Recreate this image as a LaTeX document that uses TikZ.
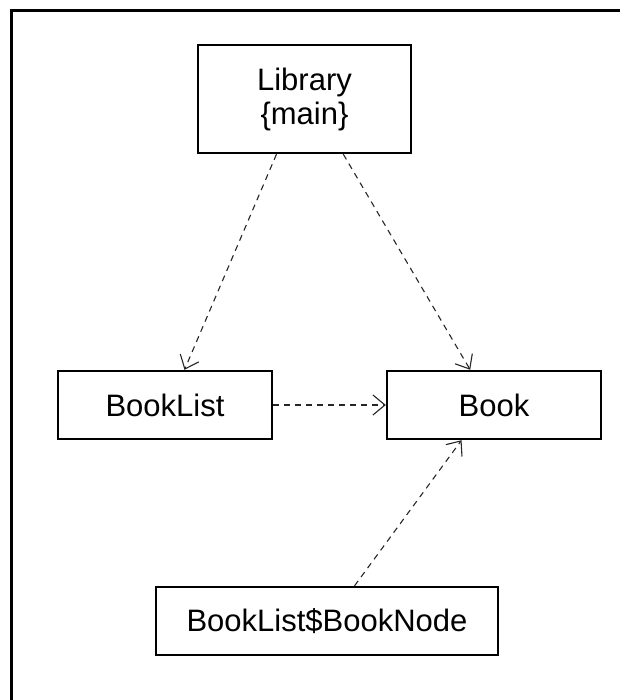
\documentclass[tikz,border=0pt]{standalone}
\usepackage{fontspec}
\setmainfont{Liberation Sans}
\usetikzlibrary{arrows.meta,calc}
\begin{document}
\begin{tikzpicture}[x=1pt,y=-1pt,
  classbox/.style={draw=black,line width=2.4pt,rectangle,inner sep=0pt,
    minimum height=68pt,align=center,font=\fontsize{31}{34}\selectfont},
  dep/.style={draw=black!85,line width=1.1pt,dash pattern=on 6pt off 5pt,
    -{Straight Barb[length=12pt,width=20pt,line width=1.1pt]}}]
  \useasboundingbox (0,0) rectangle (620,700);
  % diagram frame (top and left edges)
  \draw[line width=3pt] (11,700) -- (11,11) -- (620,11);
  % classes
  \node[classbox,minimum width=213pt,minimum height=108pt] (lib) at (304.5,99) {Library\\\{main\}};
  \node[classbox,minimum width=214pt] (blist) at (165,405) {BookList};
  \node[classbox,minimum width=214pt] (book) at (494,405) {Book};
  \node[classbox,minimum width=342pt] (bnode) at (327,621) {BookList\$BookNode};
  % dependencies
  \draw[dep] ($(lib.south west)!0.37!(lib.south east)$) -- ($(blist.north west)!0.59!(blist.north east)$);
  \draw[dep] ($(lib.south west)!0.68!(lib.south east)$) -- ($(book.north west)!0.39!(book.north east)$);
  \draw[dep] (blist.east) -- (book.west);
  \draw[dep] ($(bnode.north west)!0.58!(bnode.north east)$) -- ($(book.south west)!0.35!(book.south east)$);
\end{tikzpicture}
\end{document}
